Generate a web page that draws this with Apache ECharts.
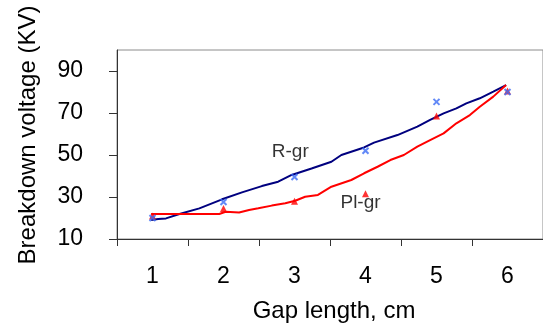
<!DOCTYPE html>
<html>
<head>
<meta charset="utf-8">
<script src="https://cdn.jsdelivr.net/npm/echarts@6/dist/echarts.min.js"></script>
<style>
  html, body { margin: 0; padding: 0; background: #fff; }
  #chart { width: 543px; height: 336px; }
</style>
</head>
<body>
<div id="chart"></div>
<script>
// --- Data ---

// measured points, gap length (cm) vs breakdown voltage (kV)
const gapLengths = [1, 2, 3, 4, 5, 6];
const rgrMeasured = [20, 27.6, 39.5, 52, 75.3, 80];
const plgrMeasured = [21, 24.5, 28, 31.5, 68.6, 80.5];

// fitted curves: [gap, kV]
const rgrCurve = [
    [0.98, 19.0], [1.08, 19.5], [1.19, 19.8], [1.38, 21.9], [1.66, 24.6],
    [1.98, 28.9], [2.26, 32.2], [2.54, 35.2], [2.77, 37.3], [2.96, 40.5],
    [3.24, 43.6], [3.52, 46.8], [3.66, 50.0], [3.98, 53.6], [4.12, 55.9],
    [4.45, 59.5], [4.73, 63.5], [4.91, 66.7], [5.10, 69.8], [5.28, 72.2],
    [5.42, 74.6], [5.61, 77.0], [5.80, 80.2], [5.98, 83.3]
];
const plgrCurve = [
    [0.98, 21.9], [1.94, 21.9], [2.03, 23.0], [2.22, 22.6], [2.36, 23.8],
    [2.49, 24.6], [2.68, 25.9], [2.87, 27.0], [3.01, 28.2], [3.15, 30.1],
    [3.33, 31.0], [3.52, 34.9], [3.80, 38.1], [3.98, 41.3], [4.17, 44.4],
    [4.35, 47.6], [4.54, 50.0], [4.73, 54.0], [4.91, 57.1], [5.10, 60.3],
    [5.28, 65.1], [5.47, 69.0], [5.61, 73.0], [5.80, 77.8], [5.98, 83.3]
];

const yTicks = [10, 30, 50, 70, 90];
const xTicks = [0.5, 1.5, 2.5, 3.5, 4.5, 5.5, 6.5];
const curveLabels = [
    { name: 'R-gr', value: [2.94, 51.4] },
    { name: 'Pl-gr', value: [3.93, 27.1] }
];

// --- Render ---

const font = 'Arial, "Liberation Sans", sans-serif';
const crossPath = 'path://M0,0L10,10M10,0L0,10';

const chart = echarts.init(document.getElementById('chart'));
chart.setOption({
    animation: false,
    textStyle: { fontFamily: font },
    grid: {
        left: 117, top: 50, right: -4, bottom: 97,
        show: true, borderColor: '#8c8c8c', borderWidth: 1,
        containLabel: false
    },
    xAxis: {
        type: 'value',
        min: 0.5, max: 6.5,
        name: 'Gap length, cm',
        nameLocation: 'middle',
        nameGap: 60,
        nameTextStyle: { fontSize: 24, color: '#000', padding: [0, 0, 0, 8] },
        axisLine: { show: true, lineStyle: { color: '#333', width: 1 } },
        axisTick: { show: true, inside: false, length: 7, customValues: xTicks, lineStyle: { color: '#333' } },
        axisLabel: { fontSize: 23, color: '#000', margin: 26, customValues: gapLengths },
        splitLine: { show: false }
    },
    yAxis: {
        type: 'value',
        min: 10, max: 100,
        name: 'Breakdown voltage (KV)',
        nameLocation: 'middle',
        nameGap: 77,
        nameTextStyle: { fontSize: 24, color: '#000', padding: [0, 0, 0, 19] },
        axisLine: { show: true, lineStyle: { color: '#333', width: 1 } },
        axisTick: { show: true, inside: false, length: 8, customValues: yTicks, lineStyle: { color: '#333' } },
        axisLabel: { fontSize: 23, color: '#000', margin: 34, customValues: yTicks },
        splitLine: { show: false }
    },
    series: [
        {
            name: 'R-gr fit',
            type: 'line',
            data: rgrCurve,
            showSymbol: false,
            lineStyle: { color: '#00007f', width: 2 },
            z: 2
        },
        {
            name: 'Pl-gr fit',
            type: 'line',
            data: plgrCurve,
            showSymbol: false,
            lineStyle: { color: '#ff0000', width: 2 },
            z: 2
        },
        {
            name: 'Pl-gr',
            type: 'scatter',
            data: gapLengths.map((g, i) => [g, plgrMeasured[i]]),
            symbol: 'triangle',
            symbolSize: 7,
            itemStyle: { color: '#ff0000' },
            z: 3
        },
        {
            name: 'R-gr',
            type: 'scatter',
            data: gapLengths.map((g, i) => [g, rgrMeasured[i]]),
            symbol: crossPath,
            symbolSize: 6,
            itemStyle: { color: 'none', borderColor: '#3b6cf5', borderWidth: 2 },
            z: 4
        },
        {
            name: 'labels',
            type: 'scatter',
            data: curveLabels,
            symbolSize: 0,
            label: {
                show: true,
                position: 'inside',
                formatter: p => p.name,
                fontSize: 19,
                color: '#000'
            },
            z: 5
        }
    ]
});
</script>
</body>
</html>
